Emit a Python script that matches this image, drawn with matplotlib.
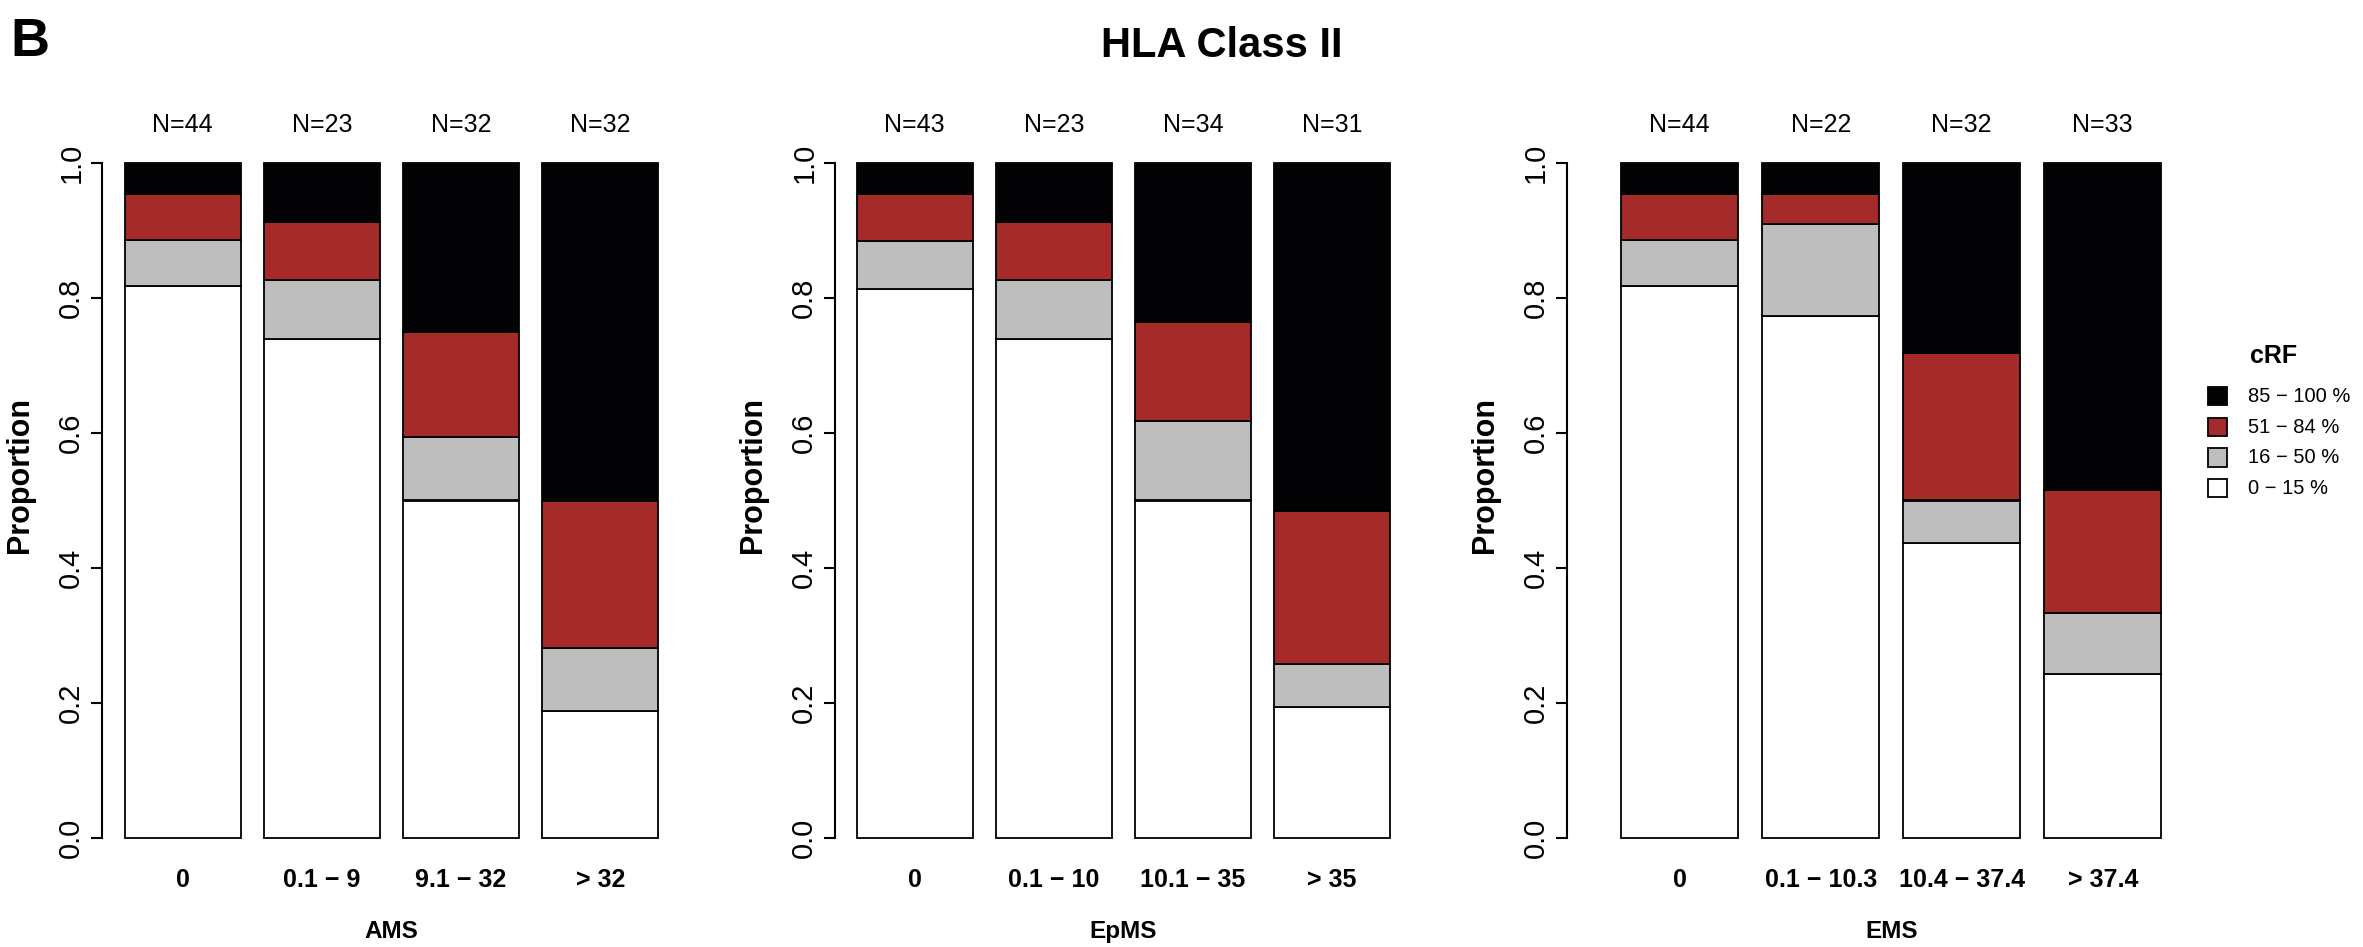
import numpy as np
import matplotlib
matplotlib.use('Agg')
import matplotlib.pyplot as plt
from matplotlib.patches import Rectangle

plt.rcParams['font.family'] = ['Liberation Sans', 'DejaVu Sans']

W, H = 2363, 947

# counts per group, bottom to top segment: 0-15 %, 16-50 %, 51-84 %, 85-100 %
panel_names = ['AMS', 'EpMS', 'EMS']
group_labels = [['0', '0.1 − 9', '9.1 − 32', '> 32'],
                ['0', '0.1 − 10', '10.1 − 35', '> 35'],
                ['0', '0.1 − 10.3', '10.4 − 37.4', '> 37.4']]
crf_0_15 = [[36, 17, 16, 6], [35, 17, 17, 6], [36, 17, 14, 8]]
crf_16_50 = [[3, 2, 3, 3], [3, 2, 4, 2], [3, 3, 2, 3]]
crf_51_84 = [[3, 2, 5, 7], [3, 2, 5, 7], [3, 1, 7, 6]]
crf_85_100 = [[2, 2, 8, 16], [2, 2, 8, 16], [2, 1, 9, 16]]

level_labels = ['0 − 15 %', '16 − 50 %', '51 − 84 %', '85 − 100 %']
level_colors = ['white', '#BEBEBE', '#A52A2A', '#030305']

yticks = [0, 0.2, 0.4, 0.6, 0.8, 1.0]
ytick_labels = ['0.0', '0.2', '0.4', '0.6', '0.8', '1.0']

# layout in pixels (R barplot look)
ax_left = [102, 835, 1566.7]
unit = [116, 116, 117.5]
xlims = [(0.005, 4.9), (0.014, 4.9), (-0.262, 4.9)]
y_top, y_bot = 163, 838


def fx(px):
    return px / W


def fy(py):
    return 1 - py / H


fig = plt.figure(figsize=(W / 100, H / 100), dpi=100)

for k in range(3):
    x0, x1 = xlims[k]
    ax = fig.add_axes([fx(ax_left[k]), fy(y_bot), (x1 - x0) * unit[k] / W, (y_bot - y_top) / H])
    counts = np.array([crf_0_15[k], crf_16_50[k], crf_51_84[k], crf_85_100[k]], dtype=float)
    n = counts.sum(axis=0)
    props = counts / n
    xpos = 0.7 + 1.2 * np.arange(4)
    bottom = np.zeros(4)
    for j in range(4):
        ax.bar(xpos, props[j], width=1, bottom=bottom, color=level_colors[j],
               edgecolor='black', linewidth=1.3, clip_on=False)
        bottom += props[j]
    ax.set_xlim(x0, x1)
    ax.set_ylim(0, 1)
    for s in ['top', 'right', 'bottom']:
        ax.spines[s].set_visible(False)
    ax.spines['left'].set_linewidth(1.5)
    ax.spines['left'].set_bounds(0, 1)
    ax.set_yticks(yticks)
    ax.set_yticklabels(ytick_labels, rotation=90, va='center', fontsize=21)
    ax.tick_params(axis='y', length=8, width=1.5, pad=4)
    ax.set_xticks([])
    for i in range(4):
        ax.text(xpos[i], 1.057, f'N={int(n[i])}', ha='center', va='center', fontsize=18)
        ax.text(xpos[i], -0.0622, group_labels[k][i], ha='center', va='center',
                fontsize=18, fontweight='bold')
    ax.text(2.5, -0.138, panel_names[k], ha='center', va='center', fontsize=17.5, fontweight='bold')
    fig.text(fx(ax_left[k] - 82), fy(475), 'Proportion', rotation=90, ha='center', va='center',
             fontsize=22, fontweight='bold')

fig.text(fx(1222), fy(46), 'HLA Class II', ha='center', va='center', fontsize=30, fontweight='bold')
fig.text(fx(10), fy(42), 'B', ha='left', va='center', fontsize=39, fontweight='bold')

# legend (top row = highest cRF)
fig.text(fx(2274), fy(356), 'cRF', ha='center', va='center', fontsize=18, fontweight='bold')
row_y = [396, 427, 457.5, 488]
sq = 18.5
for r, j in enumerate([3, 2, 1, 0]):
    fig.add_artist(Rectangle((fx(2208), fy(row_y[r] + sq / 2)), sq / W, sq / H,
                             transform=fig.transFigure, facecolor=level_colors[j],
                             edgecolor='black', linewidth=1.3))
    fig.text(fx(2248), fy(row_y[r]), level_labels[j], ha='left', va='center', fontsize=14.5)

fig.savefig('out.png', dpi=100)
